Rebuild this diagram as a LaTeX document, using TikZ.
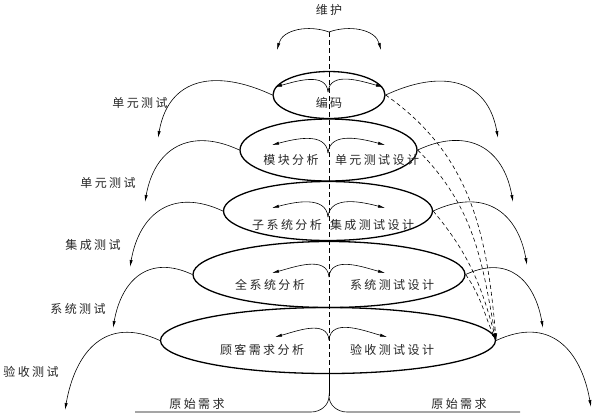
\documentclass[tikz,border=0pt]{standalone}
\usepackage{fontspec}
\newfontfamily\cjk[LetterSpace=20]{Noto Sans CJK SC}
\usetikzlibrary{shapes.geometric,arrows.meta}
\begin{document}
\begin{tikzpicture}[x=1pt,y=1pt,
  ell/.style={draw, ellipse, line width=1.3pt, inner sep=0pt},
  arr/.style={-{Latex[length=7pt,width=3.2pt]}, line width=0.6pt},
  darr/.style={-{Latex[length=7pt,width=3.2pt]}, line width=0.6pt, dash pattern=on 4pt off 3pt},
  vdash/.style={line width=0.6pt, dash pattern=on 5pt off 3pt},
  lbl/.style={font=\cjk\fontsize{12}{12}\selectfont, text=black!85, inner sep=0pt},
  larr/.style={arr, out=155, in=80, looseness=1.3},
  rarr/.style={arr, out=25, in=100, looseness=1.3},
  inl/.style={arr, out=95, in=15},
  inr/.style={arr, out=85, in=165}
]
\useasboundingbox (0,0) rectangle (593,-416);

% ellipses
\node[ell, minimum width=112pt, minimum height=47pt] (e1) at (329,-95) {};
\node[ell, minimum width=177pt, minimum height=62pt] (e2) at (328.5,-150) {};
\node[ell, minimum width=209pt, minimum height=59pt] (e3) at (328,-211) {};
\node[ell, minimum width=272pt, minimum height=66pt] (e4) at (329,-274.5) {};
\node[ell, minimum width=335pt, minimum height=66pt] (e5) at (328,-340.5) {};

% vertical axis
\coordinate (top) at (329,-32);
\coordinate (e5s) at (329,-373.5);
\coordinate (cusp) at (329,-396);
\coordinate (bl) at (135,-412);
\coordinate (bl2) at (311,-412);
\coordinate (br2) at (347,-412);
\coordinate (br) at (520,-412);
\draw[vdash] (top) -- (e5s);
\draw[line width=0.6pt] (e5s) -- (cusp);
\draw[line width=0.6pt] (bl) -- (bl2) to[out=0,in=-90] (cusp) to[out=-90,in=180] (br2) -- (br);

% maintenance arrows
\coordinate (tl) at (277,-50);
\coordinate (tr) at (381,-50);
\draw[arr] (top) to[out=160,in=75] (tl);
\draw[arr] (top) to[out=20,in=105] (tr);

% inner arrows
\coordinate (c1) at (328,-92);  \coordinate (l1) at (275,-87);  \coordinate (r1) at (383,-87);
\coordinate (c2) at (328,-153); \coordinate (l2) at (272,-145); \coordinate (r2) at (385,-145);
\coordinate (c3) at (328,-217); \coordinate (l3) at (272,-208); \coordinate (r3) at (385,-208);
\coordinate (c4) at (329,-277); \coordinate (l4) at (272,-273); \coordinate (r4) at (385,-273);
\coordinate (c5) at (329,-340); \coordinate (l5) at (275,-337); \coordinate (r5) at (387,-337);
\foreach \i in {1,...,5}{
  \draw[inl] (c\i) to (l\i);
  \draw[inr] (c\i) to (r\i);
}

% outer arrows
\coordinate (L1) at (158,-138);
\coordinate (L2) at (145,-202);
\coordinate (L3) at (130,-267);
\coordinate (L4) at (113,-328);
\coordinate (L5) at (65,-410);
\coordinate (R1) at (498,-138);
\coordinate (R2) at (513,-202);
\coordinate (R3) at (527,-265);
\coordinate (R4) at (543,-328);
\coordinate (R5) at (591,-407);
\foreach \i in {1,...,5}{
  \draw[larr] (e\i.west) to (L\i);
  \draw[rarr] (e\i.east) to (R\i);
}

% dashed arrows
\draw[darr] (e1.east) to[out=-35,in=95] (e5.east);
\draw[darr] (e2.east) to[out=-45,in=100] (e5.east);
\draw[darr] (e3.east) to[out=-50,in=105] (e5.east);
\draw[darr] (e4.east) to[out=-55,in=115] (e5.east);

% labels
\node[lbl] (t0) at (329,-10) {维护};
\node[lbl] (t1) at (329,-103) {编码};
\node[lbl] (t2a) at (291,-160) {模块分析};
\node[lbl] (t2b) at (377,-160) {单元测试设计};
\node[lbl] (t3a) at (287,-225) {子系统分析};
\node[lbl] (t3b) at (372,-225) {集成测试设计};
\node[lbl] (t4a) at (270,-285) {全系统分析};
\node[lbl] (t4b) at (392,-285) {系统测试设计};
\node[lbl] (t5a) at (262,-350) {顾客需求分析};
\node[lbl] (t5b) at (392,-350) {验收测试设计};
\node[lbl] (b1) at (197,-404) {原始需求};
\node[lbl] (b2) at (459,-404) {原始需求};
\node[lbl] (s1) at (140,-103) {单元测试};
\node[lbl] (s2) at (108,-183) {单元测试};
\node[lbl] (s3) at (93,-245) {集成测试};
\node[lbl] (s4) at (78,-309) {系统测试};
\node[lbl] (s5) at (31,-372) {验收测试};
\end{tikzpicture}
\end{document}
